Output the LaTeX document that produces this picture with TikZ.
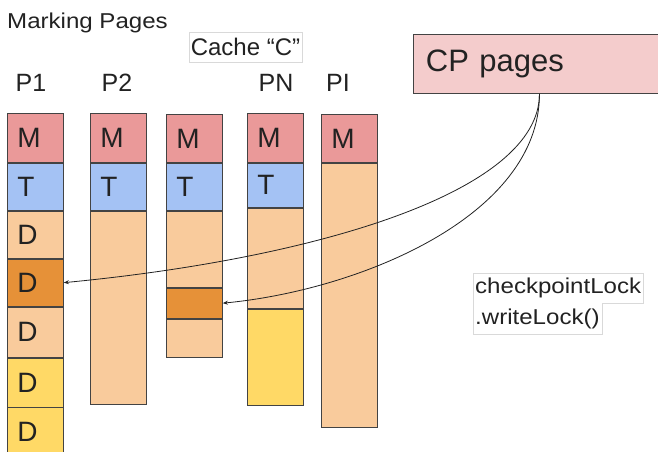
\documentclass[tikz,border=0pt]{standalone}
\usepackage{fontspec}
\setmainfont{Liberation Sans}
\newfontfamily\widefont{Liberation Sans}[FakeStretch=1.12]
\usetikzlibrary{arrows.meta}
\definecolor{edge}{HTML}{434343}
\definecolor{ink}{HTML}{222222}
\definecolor{boxgray}{HTML}{D9D9D9}
\definecolor{mred}{HTML}{EA9999}
\definecolor{mblue}{HTML}{A4C2F4}
\definecolor{dlight}{HTML}{F9CB9C}
\definecolor{ddark}{HTML}{E69138}
\definecolor{dyellow}{HTML}{FFD966}
\definecolor{cppink}{HTML}{F4CCCC}
\tikzset{
  cell/.style={
    draw=edge, line width=0.9pt, anchor=north west,
    inner ysep=0pt, inner xsep=10pt, text width=36pt, align=left,
    minimum height=#1, text=ink,
    font=\fontsize{28}{28}\selectfont
  },
  head/.style={font=\fontsize{25}{25}\selectfont, text=ink, inner sep=0pt},
  lockline/.style={
    anchor=north west, inner xsep=2pt, inner ysep=0pt,
    minimum height=30pt, align=left, text=ink,
    font=\widefont\fontsize{21.5}{21.5}\selectfont
  },
  link/.style={draw=ink, line width=0.8pt, -{Stealth[length=5pt,width=4pt]}}
}

\begin{document}
\begin{tikzpicture}[x=1pt, y=-1pt]
  \clip (0,0) rectangle (658,451);
  \fill[white] (0,0) rectangle (658,451);

  % titles
  \node[head, anchor=base west, font=\widefont\fontsize{21.5}{21.5}\selectfont] (title) at (7,28) {Marking Pages};
  \node[draw=boxgray, line width=0.6pt, minimum width=113pt, minimum height=30pt,
        inner sep=0pt, text=ink, font=\fontsize{24}{24}\selectfont] (cachetag) at (245.5,47) {Cache “C”};

  \node[head, anchor=base] (lp1) at (31,91) {P1};
  \node[head, anchor=base] (lp2) at (117,91) {P2};
  \node[head, anchor=base] (lpn) at (276,91) {PN};
  \node[head, anchor=base] (lpi) at (338,91) {PI};

  % page P1
  \node[cell=49pt, fill=mred] (p1m) at (7,113) {M};
  \node[cell=47pt, fill=mblue] (p1t) at (p1m.south west) {T};
  \node[cell=47pt, fill=dlight] (p1d1) at (p1t.south west) {D};
  \node[cell=47pt, fill=ddark] (p1d2) at (p1d1.south west) {D};
  \node[cell=50pt, fill=dlight] (p1d3) at (p1d2.south west) {D};
  \node[cell=49pt, fill=dyellow] (p1d4) at (p1d3.south west) {D};
  \node[cell=48pt, fill=dyellow] (p1d5) at (p1d4.south west) {D};

  % page P2
  \node[cell=49pt, fill=mred] (p2m) at (90,113) {M};
  \node[cell=47pt, fill=mblue] (p2t) at (p2m.south west) {T};
  \node[cell=193pt, fill=dlight] (p2d) at (p2t.south west) {};

  % cache page
  \node[cell=48pt, fill=mred] (cm) at (166,114) {M};
  \node[cell=47pt, fill=mblue] (ct) at (cm.south west) {T};
  \node[cell=76pt, fill=dlight] (cd1) at (ct.south west) {};
  \node[cell=30pt, fill=ddark] (cdark) at (cd1.south west) {};
  \node[cell=38pt, fill=dlight] (cd2) at (cdark.south west) {};

  % page PN
  \node[cell=49pt, fill=mred] (pnm) at (247,113) {M};
  \node[cell=44pt, fill=mblue] (pnt) at (pnm.south west) {T};
  \node[cell=100pt, fill=dlight] (pnd) at (pnt.south west) {};
  \node[cell=96pt, fill=dyellow] (pny) at (pnd.south west) {};

  % page PI
  \node[cell=48pt, fill=mred] (pim) at (321,114) {M};
  \node[cell=264pt, fill=dlight] (pid) at (pim.south west) {};

  % checkpoint pages
  \node[fill=cppink, draw=edge, line width=0.9pt, anchor=north west,
        minimum width=250pt, minimum height=59pt, inner xsep=12.5pt, inner ysep=0pt,
        text width=225pt, align=left, text=ink, font=\fontsize{31}{31}\selectfont] (cp) at (413,34) {CP pages};
  \coordinate (cpout) at ([xshift=1pt]cp.south);

  \draw[link] (cpout) .. controls +(0,97) and (320,258) .. (p1d2.east);
  \draw[link] (cpout) .. controls +(0,122) and (360,290) .. (cdark.east);

  % lock note
  \node[lockline] (lock1) at (473,273) {checkpointLock};
  \node[lockline] (lock2) at (lock1.south west) {.writeLock()};
  \draw[boxgray, line width=0.6pt] (lock1.north west) -- (lock1.north east) -- (lock1.south east)
    -- (lock1.south -| lock2.east) -- (lock2.south east) -- (lock2.south west) -- cycle;
\end{tikzpicture}
\end{document}
